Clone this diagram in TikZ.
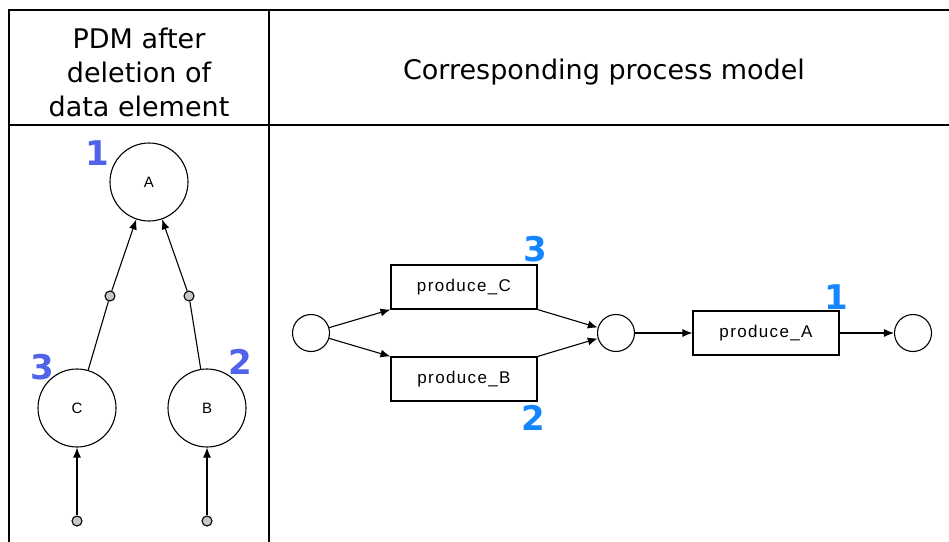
\documentclass[tikz,border=0pt]{standalone}
\usepackage{fontspec}
\setmainfont{DejaVu Sans}
\newfontfamily\lbl[LetterSpace=8]{Liberation Sans}
\newfontfamily\numfont{DejaVu Sans}
\usetikzlibrary{arrows.meta}
\definecolor{numleft}{RGB}{80,100,235}
\definecolor{numright}{RGB}{20,135,255}
\tikzset{
  grid/.style={line width=2.8pt, line cap=rect},
  pdmnode/.style={circle, draw, line width=1.1pt, minimum size=78pt, inner sep=0pt, font=\lbl\fontsize{15}{17}\selectfont},
  opdot/.style={circle, draw, fill=black!22, line width=1.1pt, minimum size=10pt, inner sep=0pt},
  place/.style={circle, draw, line width=1.1pt, minimum size=37pt, inner sep=0pt},
  trans/.style={rectangle, draw, line width=1.1pt, minimum width=146pt, minimum height=44pt, inner sep=0pt, font=\lbl\fontsize{17}{19}\selectfont},
  conn/.style={line width=1.1pt},
  arr/.style={line width=1.1pt, -{Latex[length=10pt,width=8pt]}},
  numL/.style={text=numleft, font=\numfont\bfseries\fontsize{34}{36}\selectfont, inner sep=0pt},
  numR/.style={text=numright, font=\numfont\bfseries\fontsize{34}{36}\selectfont, inner sep=0pt},
  head/.style={align=center, font=\fontsize{27}{34}\selectfont, inner sep=0pt}
}
\begin{document}
\begin{tikzpicture}[x=1pt, y=-1pt]
\useasboundingbox (0,0) rectangle (949,541);
% table
\coordinate (tl) at (9,10);
\coordinate (tr) at (949,10);
\coordinate (bl) at (9,541);
\coordinate (dt) at (269,10);
\coordinate (db) at (269,541);
\coordinate (hl) at (9,125);
\coordinate (hr) at (949,125);
\draw[grid] (tr) -- (tl) -- (bl);
\draw[grid] (dt) -- (db);
\draw[grid] (hl) -- (hr);
% headers
\node[head] (h1) at (139,72) {PDM after\\deletion of\\data element};
\node[head] (h2) at (604,72) {Corresponding process model};
% PDM
\node[pdmnode] (A) at (149,182) {A};
\node[pdmnode] (C) at (77,408) {C};
\node[pdmnode] (B) at (207,408) {B};
\node[opdot] (o1) at (110,296) {};
\node[opdot] (o2) at (189,296) {};
\node[opdot] (o3) at (77,521) {};
\node[opdot] (o4) at (207,521) {};
\draw[conn] (C) -- (o1);
\draw[conn] (B) -- (o2);
\draw[arr] (o1) -- (A);
\draw[arr] (o2) -- (A);
\draw[arr] (o3) -- (C);
\draw[arr] (o4) -- (B);
\node[numL] (n1) at (97,153) {1};
\node[numL] (n3) at (42,367) {3};
\node[numL] (n2) at (240,362) {2};
% process model
\node[place] (s) at (311,333) {};
\node[trans] (pc) at (464,287) {produce\_C};
\node[trans] (pb) at (464,379) {produce\_B};
\node[place] (m) at (616,333) {};
\node[trans] (pa) at (766,333) {produce\_A};
\node[place] (e) at (913,333) {};
\draw[arr] (s) -- (pc.south west);
\draw[arr] (s) -- (pb.north west);
\draw[arr] (pc.south east) -- (m);
\draw[arr] (pb.north east) -- (m);
\draw[arr] (m) -- (pa);
\draw[arr] (pa) -- (e);
\node[numR] (r3) at (535,249) {3};
\node[numR] (r2) at (533,418) {2};
\node[numR] (r1) at (836,297) {1};
\end{tikzpicture}
\end{document}
